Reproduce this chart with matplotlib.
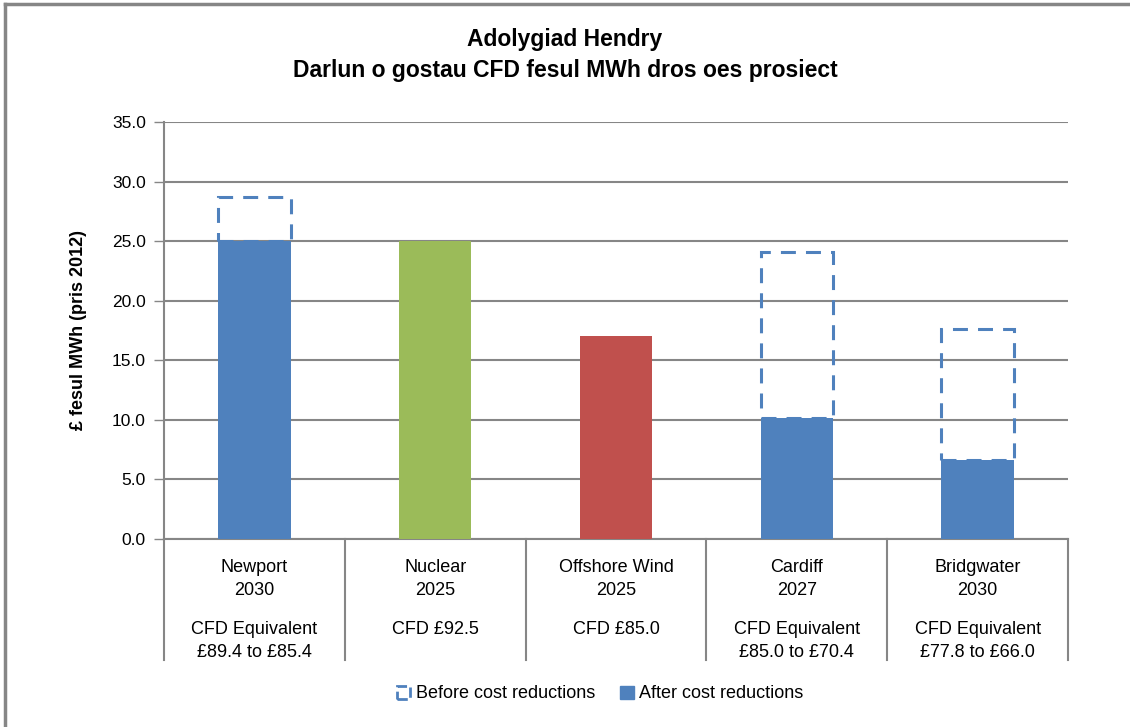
import matplotlib.pyplot as plt
from matplotlib.patches import Patch
from matplotlib.lines import Line2D

plt.rcParams['font.family'] = ['Liberation Sans', 'DejaVu Sans']

categories = ["Newport\n2030", "Nuclear\n2025", "Offshore Wind\n2025", "Cardiff\n2027", "Bridgwater\n2030"]
cfd_labels = ["CFD Equivalent\n£89.4 to £85.4", "CFD £92.5", "CFD £85.0",
              "CFD Equivalent\n£85.0 to £70.4", "CFD Equivalent\n£77.8 to £66.0"]
after_cost = [25.0, 25.0, 17.05, 10.15, 6.65]
before_cost = [28.7, None, None, 24.1, 17.6]
bar_colors = ["#4F81BD", "#9BBB59", "#C0504D", "#4F81BD", "#4F81BD"]
yticks = [0, 5, 10, 15, 20, 25, 30, 35]

blue = "#4F81BD"
grey = "#868686"

fig = plt.figure(figsize=(11.3, 7.27), dpi=100)
W, H = 1130, 727
ax = fig.add_axes([164 / W, 1 - 539 / H, (1068 - 164) / W, (539 - 122) / H])

x = list(range(len(categories)))
ax.bar(x, after_cost, width=0.40, color=bar_colors, zorder=3)

dash = (0, (4.9, 3.3))
for i, (a, b) in enumerate(zip(after_cost, before_cost)):
    if b is None:
        continue
    ax.bar(i, b - a, bottom=a, width=0.40, facecolor="none", edgecolor=blue,
           linewidth=2.2, linestyle=dash, zorder=4)

ax.set_xlim(-0.5, len(categories) - 0.5)
ax.set_ylim(0, 35)
ax.set_yticks(yticks)
ax.set_yticklabels([f"{v:.1f}" for v in yticks], fontsize=12.5)
ax.tick_params(axis="y", direction="out", length=7, width=1, color=grey, pad=6)
ax.set_xticks([])
ax.grid(axis="y", color=grey, linewidth=1.5, zorder=0)
for s in ["top", "right"]:
    ax.spines[s].set_visible(False)
ax.spines["left"].set_color(grey)
ax.spines["left"].set_linewidth(1.5)
ax.spines["bottom"].set_color(grey)
ax.spines["bottom"].set_linewidth(1.5)

# category table below the axis
tr = ax.get_xaxis_transform()
for k in range(len(categories) + 1):
    ax.plot([k - 0.5, k - 0.5], [0, -0.29], transform=tr, color=grey,
            linewidth=1.5, clip_on=False)
for i in x:
    ax.text(i, -0.047, categories[i], transform=tr, ha="center", va="top",
            fontsize=13, linespacing=1.5)
    ax.text(i, -0.196, cfd_labels[i], transform=tr, ha="center", va="top",
            fontsize=13, linespacing=1.5)

ax.set_ylabel("£ fesul MWh (pris 2012)", fontsize=13, fontweight="bold", labelpad=18)

fig.text(565 / W, 1 - 55 / H, "Adolygiad Hendry\nDarlun o gostau CFD fesul MWh dros oes prosiect",
         ha="center", va="center", fontsize=16.5, fontweight="bold", linespacing=1.45)

handles = [Patch(facecolor="none", edgecolor=blue, linestyle="--", linewidth=2),
           Patch(facecolor=blue, edgecolor=blue)]
fig.legend(handles, ["Before cost reductions", "After cost reductions"],
           loc="center", bbox_to_anchor=(600 / W, 1 - 694 / H), ncol=2, frameon=False,
           fontsize=13, handlelength=0.75, handleheight=0.75, handletextpad=0.3,
           columnspacing=1.4)

# outer chart border (only left and top edges are visible)
fig.lines.append(Line2D([5 / W, 5 / W], [0, 1 - 4 / H], transform=fig.transFigure,
                        color=grey, linewidth=2.5))
fig.lines.append(Line2D([5 / W, 1], [1 - 4 / H, 1 - 4 / H], transform=fig.transFigure,
                        color=grey, linewidth=2.5))

fig.savefig("out.png", dpi=100)
